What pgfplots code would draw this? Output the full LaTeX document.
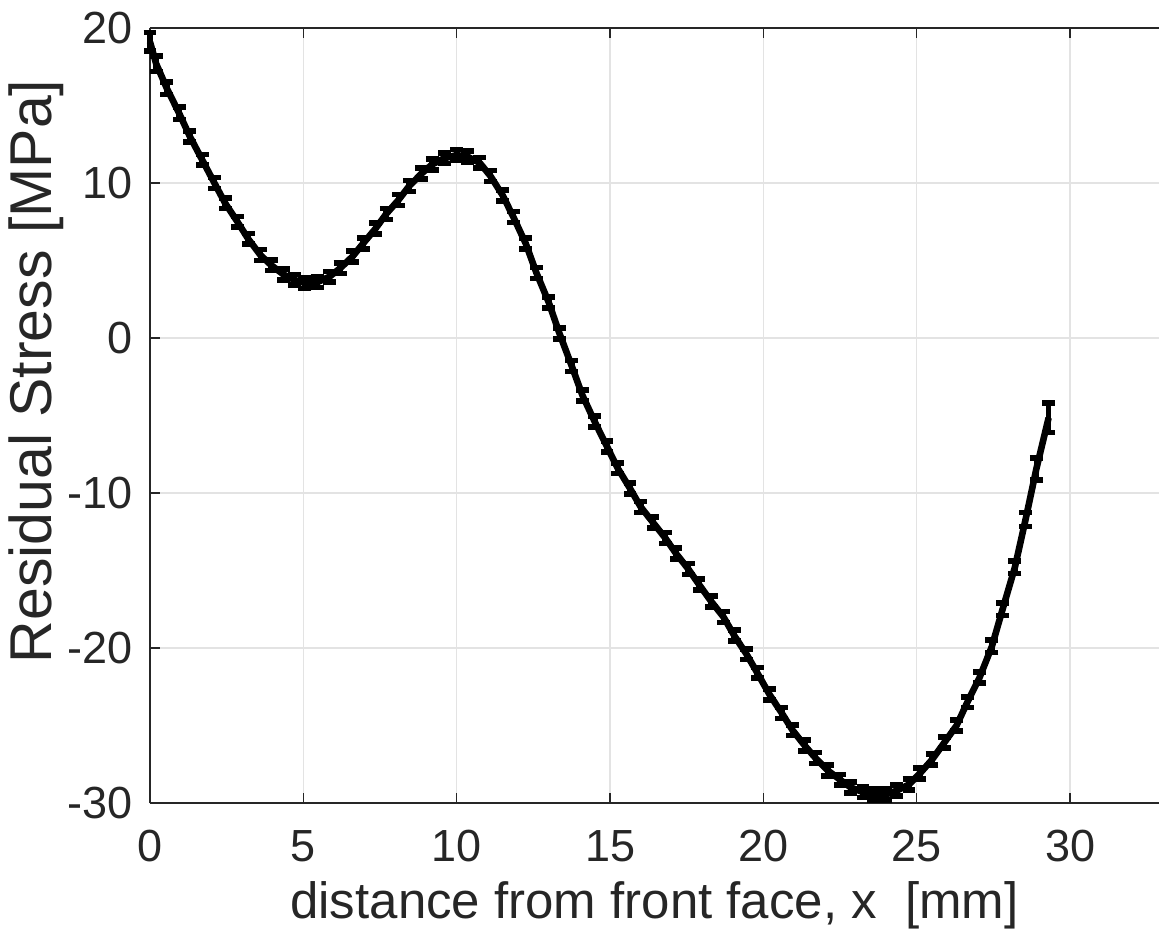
\documentclass[border=0pt]{standalone}
\usepackage{fontspec}
\setmainfont{Liberation Sans}
\usepackage{pgfplots}
\usepackage{pgfplotstable}
\pgfplotsset{compat=1.18}
\definecolor{txt}{HTML}{262626}
\definecolor{grd}{HTML}{E3E3E3}
\pgfplotstableread{
x y e
0.0 19.1 0.6
0.2 17.7 0.5
0.55 16.1 0.4
0.95 14.5 0.4
1.3 13.0 0.35
1.7 11.5 0.35
2.1 10.0 0.35
2.45 8.7 0.35
2.85 7.5 0.35
3.2 6.4 0.35
3.6 5.35 0.35
3.95 4.7 0.35
4.35 4.1 0.35
4.7 3.75 0.35
5.05 3.55 0.35
5.45 3.6 0.35
5.85 3.95 0.35
6.2 4.5 0.35
6.6 5.25 0.35
6.95 6.1 0.35
7.35 7.05 0.35
7.7 8.0 0.35
8.1 8.9 0.35
8.45 9.8 0.35
8.85 10.6 0.35
9.2 11.2 0.35
9.6 11.6 0.35
10.0 11.8 0.35
10.35 11.7 0.35
10.75 11.3 0.35
11.1 10.45 0.35
11.5 9.2 0.35
11.85 7.8 0.35
12.25 6.1 0.35
12.6 4.2 0.35
13.0 2.3 0.35
13.35 0.3 0.35
13.75 -1.8 0.35
14.1 -3.7 0.35
14.5 -5.4 0.35
14.9 -7.0 0.35
15.25 -8.4 0.35
15.65 -9.7 0.35
16.0 -10.9 0.35
16.4 -11.9 0.35
16.8 -12.9 0.35
17.15 -13.9 0.35
17.55 -14.9 0.35
17.9 -15.9 0.35
18.3 -17.0 0.35
18.7 -18.0 0.35
19.05 -19.2 0.35
19.45 -20.4 0.35
19.8 -21.6 0.35
20.2 -23.0 0.35
20.6 -24.2 0.35
20.95 -25.3 0.35
21.35 -26.3 0.35
21.7 -27.1 0.35
22.1 -27.9 0.35
22.5 -28.5 0.35
22.85 -29.0 0.35
23.25 -29.3 0.35
23.6 -29.45 0.35
24.0 -29.45 0.35
24.35 -29.2 0.35
24.75 -28.8 0.35
25.1 -28.1 0.35
25.5 -27.2 0.35
25.9 -26.1 0.35
26.3 -25.0 0.35
26.65 -23.5 0.35
27.05 -21.9 0.35
27.45 -19.9 0.4
27.8 -17.5 0.4
28.2 -14.8 0.4
28.55 -11.7 0.45
28.9 -8.45 0.7
29.3 -5.15 0.95
}\data
\begin{document}
\begin{tikzpicture}
\begin{axis}[name=ax, scale only axis, width=504.5pt, height=387.5pt,
  xmin=0, xmax=32.9, ymin=-30, ymax=20,
  xtick={0,5,...,30}, ytick={-30,-20,...,20},
  axis x line=box, axis y line=left,
  x axis line style={-}, y axis line style={-},
  axis line style={txt, line width=0.6pt},
  tick align=inside, major tick length=5pt,
  tick style={txt, line width=0.6pt},
  grid=major, major grid style={grd, line width=0.6pt},
  /pgf/number format/assume math mode=true,
  ticklabel style={font=\fontsize{22.5}{26}\selectfont, text=txt},
  xticklabel style={yshift=-10pt},
  yticklabel style={xshift=-5pt},
  xlabel style={font=\fontsize{25.5}{30}\selectfont, text=txt,
    at={([yshift=-51pt]axis description cs:0.5,0)}, anchor=center},
  ylabel style={font=\fontsize{29.5}{34}\selectfont, text=txt,
    at={([shift={(-57pt,22pt)}]axis description cs:0,0.5)}, anchor=center},
  xlabel={distance from front face, x\ \ [mm]},
  ylabel={Residual Stress [MPa]},
  clip=false,
]
\addplot[black, line width=3.3pt, line join=round, mark=none,
  error bars/.cd, y dir=both, y explicit,
  error bar style={line width=2.8pt, black},
  error mark options={rotate=90, line width=2.8pt, mark size=3.2pt, black}]
  table[x=x, y=y, y error=e] {\data};
\end{axis}
\pgfresetboundingbox
\path ([shift={(-75pt,-63.5pt)}]ax.south west) rectangle ++(579.5pt,465pt);
\end{tikzpicture}
\end{document}
